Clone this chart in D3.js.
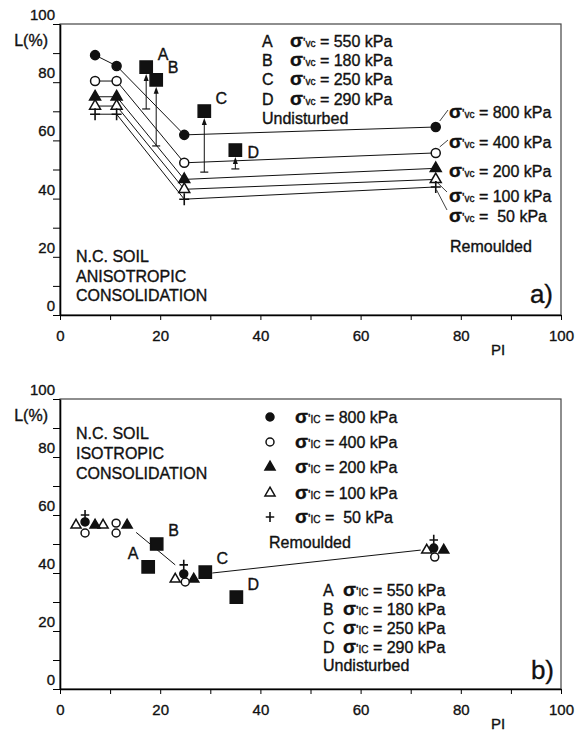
<!DOCTYPE html>
<html>
<head>
<meta charset="utf-8">
<script src="https://cdn.jsdelivr.net/npm/d3@7"></script>
<style>
body { margin: 0; background: #fff; }
text { font-family: "Liberation Sans", Arial, sans-serif; fill: #111; stroke: #111; stroke-width: 0.35px; }
</style>
</head>
<body>
<svg id="chart" width="583" height="733"></svg>
<script>
// axis ticks
var yTicks = d3.range(0, 101, 10);
var xTicks = d3.range(0, 101, 10);

// consolidation stresses (kPa)
var stressRem = [800, 400, 200, 100, 50];
var stressUnd = [550, 180, 250, 290];
var undNames = ["A", "B", "C", "D"];

// panel a: anisotropic consolidation, remoulded soils (PI of the four soils)
var piA = [7, 11.3, 24.8, 75];
var a800 = [89.3, 85.6, 61.9, 64.6];
var a400 = [80.4, 80.4, 52.3, 55.7];
var a200 = [75, 75, 46.6, 50.4];
var a100 = [71.8, 71.8, 43.2, 46.6];
var a50 = [69, 69, 39.8, 44];

// panel a: undisturbed samples, with the lower end of each arrow
var undPiA = [17.2, 19.2, 28.8, 35];
var undLA = [85.2, 80.8, 70.1, 56.7];
var undLowA = [70.8, 58.1, 49.1, 50.2];

// panel b: isotropic consolidation, remoulded soils
var b800Pi = [5, 24.7, 74.6], b800L = [57.6, 39.7, 48.6];
var b400Pi = [5, 11.2, 11.2, 25, 74.8], b400L = [53.8, 57.2, 53.8, 36.9, 45.5];
var b200Pi = [7, 13.4, 26.7, 76.6], b200L = [56.5, 56.5, 37.9, 47.9];
var b100Pi = [3.2, 8.6, 23, 73.2], b100L = [56.5, 56.5, 37.9, 47.9];
var b50Pi = [5, 24.7, 74.6], b50L = [60, 42.8, 51.4];

// panel b: trend line pieces
var trendPiB = [[15.2, 23], [30.4, 72]];
var trendLB = [[54, 42.8], [40, 47.9]];

// panel b: undisturbed samples
var undPiB = [17.6, 19.3, 29, 35.2];
var undLB = [42.1, 50, 40.3, 31.7];

var svg = d3.select("#chart");

// draw one marker
function marker(g, type, cx, cy, big) {
    var k = big ? 1 : 0.85;
    if (type == "plus") {
        g.append("path")
            .attr("d", "M" + (cx - 5 * k) + "," + cy + "H" + (cx + 5 * k) +
                       "M" + cx + "," + (cy - 6 * k) + "V" + (cy + 6 * k))
            .attr("stroke", "#111").attr("stroke-width", 1.6).attr("fill", "none");
        return;
    }
    var sym = d3.symbol();
    var fill = "#111";
    if (type == "dot" || type == "ring") sym.type(d3.symbolCircle).size(big ? 64 : 50);
    if (type == "tri" || type == "otri") sym.type(d3.symbolTriangle).size(big ? 52 : 44);
    if (type == "sq") sym.type(d3.symbolSquare).size(150);
    if (type == "ring" || type == "otri") fill = "#fff";
    g.append("path")
        .attr("d", sym())
        .attr("transform", "translate(" + cx + "," + cy + ")")
        .attr("fill", fill)
        .attr("stroke", "#111")
        .attr("stroke-width", 1.5);
}

// sigma label like  σ'vc = 550 kPa
function sigmaText(g, x, y, sub, value) {
    var t = g.append("text").attr("x", x).attr("y", y)
        .attr("font-size", 16).style("white-space", "pre");
    t.append("tspan").attr("font-size", 19).attr("font-weight", "bold").text("σ");
    t.append("tspan").attr("font-size", 13).text("'");
    t.append("tspan").attr("font-size", 10).text(sub);
    t.append("tspan").text(" = " + (value < 100 ? " " : "") + value + " kPa");
}

// frame, axes and tick labels of one panel
function drawFrame(top, bottom) {
    var x = d3.scaleLinear().domain([0, 100]).range([60, 561]);
    var y = d3.scaleLinear().domain([0, 100]).range([bottom, top]);
    var g = svg.append("g");

    g.append("rect")
        .attr("x", 60).attr("y", top)
        .attr("width", 501).attr("height", bottom - top)
        .attr("fill", "none").attr("stroke", "#444").attr("stroke-width", 1.2);

    var yAxis = g.append("g")
        .attr("transform", "translate(60,0)")
        .call(d3.axisLeft(y).tickValues(yTicks).tickSize(7).tickSizeOuter(0)
            .tickFormat(function(d) {
                if (d == 90) return "L(%)";
                return d % 20 == 0 ? d : "";
            }));
    yAxis.select(".domain").attr("stroke-width", 1.6);
    yAxis.selectAll("text")
        .attr("font-size", function(d) { return d == 90 ? 16 : 15; })
        .attr("x", function(d) { return d == 90 ? -12 : -5; })
        .attr("dy", function(d) { return d == 90 ? "-0.45em" : "-0.3em"; })
        .style("font-family", "Liberation Sans, Arial, sans-serif");

    var xAxis = g.append("g")
        .attr("transform", "translate(0," + bottom + ")")
        .call(d3.axisBottom(x).tickValues(xTicks).tickSize(5).tickSizeOuter(0)
            .tickFormat(function(d) { return d % 20 == 0 ? d : ""; }));
    xAxis.select(".domain").attr("stroke-width", 1.6);
    xAxis.selectAll("text")
        .attr("font-size", 15).attr("y", 15)
        .style("font-family", "Liberation Sans, Arial, sans-serif");

    g.append("text").attr("x", 498).attr("y", bottom + 40)
        .attr("text-anchor", "middle").attr("font-size", 15).text("PI");

    return { g: g, x: x, y: y };
}

// ---------- panel a ----------
var pa = drawFrame(24, 315);
var xa = pa.x, ya = pa.y, ga = pa.g;
var seriesA = [a800, a400, a200, a100, a50];
var typesA = ["dot", "ring", "tri", "otri", "plus"];

var lineA = d3.line()
    .x(function(d, i) { return xa(piA[i]); })
    .y(function(d) { return ya(d); });

seriesA.forEach(function(s) {
    ga.append("path").attr("d", lineA(s))
        .attr("fill", "none").attr("stroke", "#111").attr("stroke-width", 1);
});
seriesA.forEach(function(s, j) {
    s.forEach(function(v, i) { marker(ga, typesA[j], xa(piA[i]), ya(v), true); });
});

// undisturbed: arrow from lower value up to the square
undPiA.forEach(function(p, i) {
    var cx = xa(p), top = ya(undLA[i]) + 7, low = ya(undLowA[i]);
    ga.append("line").attr("x1", cx).attr("x2", cx).attr("y1", low).attr("y2", top + 5)
        .attr("stroke", "#111").attr("stroke-width", 1);
    ga.append("line").attr("x1", cx - 4).attr("x2", cx + 4).attr("y1", low).attr("y2", low)
        .attr("stroke", "#111").attr("stroke-width", 1.2);
    ga.append("path")
        .attr("d", "M" + cx + "," + top + "L" + (cx - 2.5) + "," + (top + 7) + "L" + (cx + 2.5) + "," + (top + 7) + "Z")
        .attr("fill", "#111");
    marker(ga, "sq", cx, ya(undLA[i]), true);
    var off = i == 3 ? [18, 3] : [17, -12];
    ga.append("text").attr("x", cx + off[0]).attr("y", ya(undLA[i]) + off[1] + 5)
        .attr("text-anchor", "middle").attr("font-size", 16).text(undNames[i]);
});

// legend of undisturbed stresses
stressUnd.forEach(function(s, i) {
    var yy = 47 + i * 19.2;
    ga.append("text").attr("x", 262).attr("y", yy).attr("font-size", 16).text(undNames[i]);
    sigmaText(ga, 290, yy, "vc", s);
});
ga.append("text").attr("x", 262).attr("y", 124).attr("font-size", 16).text("Undisturbed");

// labels of remoulded series on the right
var remY = [118, 148, 177, 202, 222];
stressRem.forEach(function(s, i) {
    sigmaText(ga, 449, remY[i], "vc", s);
});
ga.append("text").attr("x", 450).attr("y", 252).attr("font-size", 16).text("Remoulded");

// leader lines from last points to their labels
var lastX = xa(piA[3]);
[[0, -5, -6, 448, 110], [1, -5, -6, 448, 140], [3, 4, 2, 447, 192], [4, 3, 3, 447, 210]].forEach(function(d) {
    ga.append("line")
        .attr("x1", lastX + d[1] * -0.4 + 2).attr("y1", ya(seriesA[d[0]][3]) + d[2])
        .attr("x2", d[3]).attr("y2", d[4])
        .attr("stroke", "#111").attr("stroke-width", 0.8);
});

ga.append("text").attr("x", 76).attr("y", 262).attr("font-size", 16).text("N.C. SOIL");
ga.append("text").attr("x", 76).attr("y", 282).attr("font-size", 16).text("ANISOTROPIC");
ga.append("text").attr("x", 76).attr("y", 301).attr("font-size", 16).text("CONSOLIDATION");
ga.append("text").attr("x", 553).attr("y", 303).attr("text-anchor", "end").attr("font-size", 26).text("a)");

// ---------- panel b ----------
var pb = drawFrame(399, 689);
var xb = pb.x, yb = pb.y, gb = pb.g;

trendPiB.forEach(function(p, i) {
    gb.append("line")
        .attr("x1", xb(p[0])).attr("y1", yb(trendLB[i][0]))
        .attr("x2", xb(p[1])).attr("y2", yb(trendLB[i][1]))
        .attr("stroke", "#111").attr("stroke-width", 1);
});

var seriesB = [[b100Pi, b100L, "otri"], [b200Pi, b200L, "tri"], [b400Pi, b400L, "ring"],
               [b800Pi, b800L, "dot"], [b50Pi, b50L, "plus"]];
seriesB.forEach(function(s) {
    s[0].forEach(function(p, i) { marker(gb, s[2], xb(p), yb(s[1][i]), false); });
});

undPiB.forEach(function(p, i) {
    marker(gb, "sq", xb(p), yb(undLB[i]), true);
    var off = i == 0 ? [-15, -14] : [17, -14];
    if (i == 3) off = [17, -13];
    gb.append("text").attr("x", xb(p) + off[0]).attr("y", yb(undLB[i]) + off[1] + 6)
        .attr("text-anchor", "middle").attr("font-size", 16).text(undNames[i]);
});

// legend of remoulded stresses
var typesB = ["dot", "ring", "tri", "otri", "plus"];
var legBY = [417, 442, 467, 493, 517];
stressRem.forEach(function(s, i) {
    marker(gb, typesB[i], 270, legBY[i], false);
    sigmaText(gb, 295, legBY[i] + 6, "IC", s);
});
gb.append("text").attr("x", 269).attr("y", 548).attr("font-size", 16).text("Remoulded");

// legend of undisturbed stresses
stressUnd.forEach(function(s, i) {
    var yy = 596 + i * 19;
    gb.append("text").attr("x", 323).attr("y", yy).attr("font-size", 16).text(undNames[i]);
    sigmaText(gb, 343, yy, "IC", s);
});
gb.append("text").attr("x", 323).attr("y", 671).attr("font-size", 16).text("Undisturbed");

gb.append("text").attr("x", 76).attr("y", 439).attr("font-size", 16).text("N.C. SOIL");
gb.append("text").attr("x", 76).attr("y", 459).attr("font-size", 16).text("ISOTROPIC");
gb.append("text").attr("x", 76).attr("y", 479).attr("font-size", 16).text("CONSOLIDATION");
gb.append("text").attr("x", 554).attr("y", 679).attr("text-anchor", "end").attr("font-size", 26).text("b)");
</script>
</body>
</html>
